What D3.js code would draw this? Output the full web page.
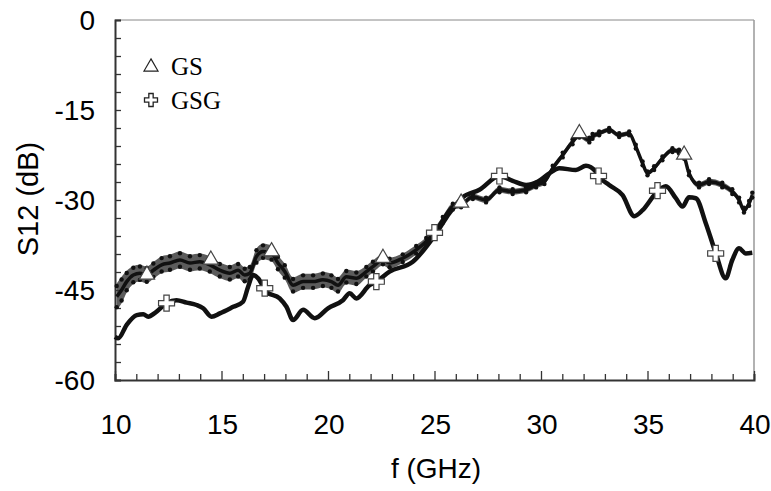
<!DOCTYPE html>
<html><head><meta charset="utf-8">
<script src="https://cdn.jsdelivr.net/npm/d3@7/dist/d3.min.js"></script>
<style>body{margin:0;background:#fff}</style>
</head><body><svg id="c" width="771" height="491"></svg>
<script>
const xTicks = [10,15,20,25,30,35,40];
const yTicks = [0,-15,-30,-45,-60];
const seriesNames = ["GS","GSG"];
const gsF = [10.08,10.31,10.55,10.86,11.17,11.49,11.80,12.19,12.58,13.05,13.52,13.98,14.45,14.92,15.39,15.78,16.09,16.33,16.64,16.95,17.35,17.65,17.97,18.36,18.83,19.30,19.76,20.16,20.47,20.86,21.33,21.80,22.11,22.58,22.89,23.51,24.14,24.61,25.08,25.39,25.86,26.25,26.80,27.42,28.05,28.67,29.30,29.77,30.16,30.55,31.02,31.48,31.80,32.27,32.42,32.73,33.20,33.67,34.14,34.45,34.77,35.00,35.31,35.70,36.17,36.48,36.72,36.95,37.42,37.89,38.51,38.98,39.30,39.53,39.77,39.92];
const gsV = [-46.1,-45.0,-43.6,-42.5,-42.2,-42.5,-41.7,-40.8,-40.5,-40.0,-40.5,-40.3,-40.8,-41.7,-42.2,-41.7,-42.5,-42.2,-39.4,-38.6,-38.9,-40.5,-41.9,-44.2,-43.6,-43.6,-43.3,-43.6,-44.2,-42.8,-43.05,-41.95,-41.1,-40.0,-40.5,-39.7,-38.3,-36.9,-35.0,-33.3,-31.1,-30.8,-29.45,-30.0,-28.3,-28.6,-28.3,-27.5,-26.95,-24.7,-22.5,-20.3,-19.2,-20.0,-19.4,-18.9,-18.3,-19.2,-18.9,-21.1,-23.9,-25.55,-24.7,-23.05,-21.7,-21.95,-22.8,-25.55,-27.5,-26.95,-27.5,-28.6,-30.0,-31.7,-30.55,-29.2];
const gsSpread = [2.2,2.2,1.8,1.5,1.4,1.4,1.4,1.4,1.4,1.4,1.4,1.4,1.4,1.3,1.3,1.3,1.3,1.3,1.3,1.3,1.3,1.3,1.3,1.3,1.3,1.3,1.3,1.3,1.3,1.2,1.2,1.0,1.0,0.9,0.9,0.8,0.8,0.7,0.7,0.6,0.6,0.5,0.5,0.5,0.5,0.5,0.5,0.5,0.5,0.5,0.5,0.5,0.5,0.5,0.5,0.4,0.4,0.4,0.4,0.4,0.4,0.4,0.4,0.4,0.4,0.4,0.4,0.4,0.5,0.5,0.5,0.5,0.5,0.5,0.5,0.5];
const gsgF = [10.0,10.15,10.55,11.02,11.33,11.56,11.88,12.42,12.89,13.36,13.83,14.14,14.53,14.92,15.55,16.01,16.25,16.48,16.72,17.11,17.73,18.05,18.36,18.83,19.38,20.0,20.70,21.02,21.33,21.95,22.27,22.89,23.98,25.08,25.70,26.33,27.11,28.05,28.67,29.30,29.84,30.39,30.86,31.64,32.11,32.58,32.70,33.20,33.83,34.38,34.77,35.39,35.86,36.33,36.64,36.95,37.27,37.74,38.20,38.67,38.98,39.30,39.61,39.92];
const gsgV = [-52.8,-53.05,-50.8,-49.2,-49.05,-49.45,-48.8,-47.2,-46.7,-47.1,-47.5,-48.05,-49.45,-48.9,-47.8,-46.95,-44.45,-42.5,-43.05,-45.3,-46.4,-47.8,-50.0,-48.3,-49.7,-48.05,-46.7,-45.55,-46.4,-44.2,-43.6,-41.95,-40.3,-35.55,-32.2,-29.55,-28.3,-26.0,-26.8,-27.5,-26.95,-25.55,-24.7,-25.0,-24.3,-25.3,-26.0,-27.5,-29.2,-32.7,-31.7,-28.9,-27.7,-29.7,-31.1,-29.55,-29.7,-33.9,-38.8,-43.05,-40.0,-38.05,-38.9,-38.8];
const gsMarkF = [11.5,14.5,17.35,22.58,26.25,31.8,36.72];
const gsMarkV = [-42.8,-40.3,-38.9,-40.0,-30.8,-19.2,-22.8];
const gsgMarkF = [12.42,17.03,22.27,25.0,28.05,32.70,35.47,38.2];
const gsgMarkV = [-47.2,-44.7,-43.6,-35.45,-26.0,-26.0,-28.45,-38.9];

const svg = d3.select("#c");
const L=115,R=754,T=20,B=380;
const x = d3.scaleLinear().domain([10,40]).range([L,R]);
const y = d3.scaleLinear().domain([-60,0]).range([B,T]);

// frame
svg.append("line").attr("x1",L).attr("x2",R).attr("y1",T).attr("y2",T).attr("stroke","#888").attr("stroke-width",1);
svg.append("line").attr("x1",R).attr("x2",R).attr("y1",T).attr("y2",B).attr("stroke","#999").attr("stroke-width",1.5);

// axes with inward ticks
const xAxis = d3.axisBottom(x).tickValues(d3.range(10,41,1)).tickSize(-6).tickFormat("");
const gx = svg.append("g").attr("transform",`translate(0,${B})`).call(xAxis);
gx.selectAll(".tick line").attr("y2",d=>d%5===0?-9:-6);
const yAxis = d3.axisLeft(y).tickValues(d3.range(-60,1,3)).tickSize(-6).tickFormat("");
const gy = svg.append("g").attr("transform",`translate(${L},0)`).call(yAxis);
[gx,gy].forEach(g=>{g.select(".domain").attr("stroke","#333").attr("stroke-width",2);g.selectAll(".tick line").attr("stroke","#333").attr("stroke-width",1.3);});

const font = "'Liberation Sans', Arial, sans-serif";
svg.append("g").selectAll("text").data(xTicks).join("text")
  .attr("x",d=>x(d)+1).attr("y",434).attr("text-anchor","middle")
  .attr("font-family",font).attr("font-size",28).text(d=>d);
svg.append("g").selectAll("text").data(yTicks).join("text")
  .attr("x",95).attr("y",d=>y(d)+10).attr("text-anchor","end")
  .attr("font-family",font).attr("font-size",28).text(d=>d);
svg.append("text").attr("x",436).attr("y",478).attr("text-anchor","middle")
  .attr("font-family",font).attr("font-size",28).text("f (GHz)");
svg.append("text").attr("transform","translate(38,199) rotate(-90)").attr("text-anchor","middle")
  .attr("font-family",font).attr("font-size",29).text("S12 (dB)");

// series
const gs = gsF.map((f,i)=>({f,v:gsV[i],s:gsSpread[i]}));
const gsg = gsgF.map((f,i)=>({f,v:gsgV[i]}));
const line = d3.line().x(d=>x(d.f)).y(d=>y(d.v)).curve(d3.curveMonotoneX);
const band = d3.area().x(d=>x(d.f)).y0(d=>y(d.v-d.s)).y1(d=>y(d.v+d.s)).curve(d3.curveMonotoneX);
svg.append("path").datum(gs).attr("d",band).attr("fill","#333").attr("opacity",0.8);
svg.append("path").datum(gs).attr("d",line).attr("fill","none").attr("stroke","#111").attr("stroke-width",3.5);
svg.append("path").datum(gsg).attr("d",line).attr("fill","none").attr("stroke","#111").attr("stroke-width",4.5);
svg.append("g").selectAll("circle").data(gs).join("circle").attr("cx",d=>x(d.f)).attr("cy",d=>y(d.v+d.s*0.8)).attr("r",2.2).attr("fill","#111");
svg.append("g").selectAll("circle").data(gs).join("circle").attr("cx",d=>x(d.f)).attr("cy",d=>y(d.v-d.s*0.8)).attr("r",2.2).attr("fill","#111");

// markers
const tri = d3.symbol().type(d3.symbolTriangle).size(100);
const crossPath = (s)=>{const a=s/6,b=s/2;return `M${-a},${-b}H${a}V${-a}H${b}V${a}H${a}V${b}H${-a}V${a}H${-b}V${-a}H${-a}Z`;};
svg.append("g").selectAll("path").data(gsMarkF.map((f,i)=>({f,v:gsMarkV[i]}))).join("path")
  .attr("transform",d=>`translate(${x(d.f)},${y(d.v)-2})`).attr("d",tri())
  .attr("fill","#fff").attr("stroke","#444").attr("stroke-width",1.2);
svg.append("g").selectAll("path").data(gsgMarkF.map((f,i)=>({f,v:gsgMarkV[i]}))).join("path")
  .attr("transform",d=>`translate(${x(d.f)},${y(d.v)})`).attr("d",crossPath(16))
  .attr("fill","#fff").attr("stroke","#444").attr("stroke-width",1.2);

// legend
const lg = svg.append("g");
lg.append("path").attr("transform","translate(151,67)").attr("d",d3.symbol().type(d3.symbolTriangle).size(85)())
  .attr("fill","#fff").attr("stroke","#222").attr("stroke-width",1.2);
lg.append("path").attr("transform","translate(151,100)").attr("d",crossPath(13))
  .attr("fill","#fff").attr("stroke","#222").attr("stroke-width",1.3);
lg.selectAll("text").data(seriesNames).join("text").attr("x",171).attr("y",(d,i)=>75+i*34)
  .attr("font-family","'Liberation Serif','Times New Roman',serif").attr("font-size",25).text(d=>d);
</script></body></html>
